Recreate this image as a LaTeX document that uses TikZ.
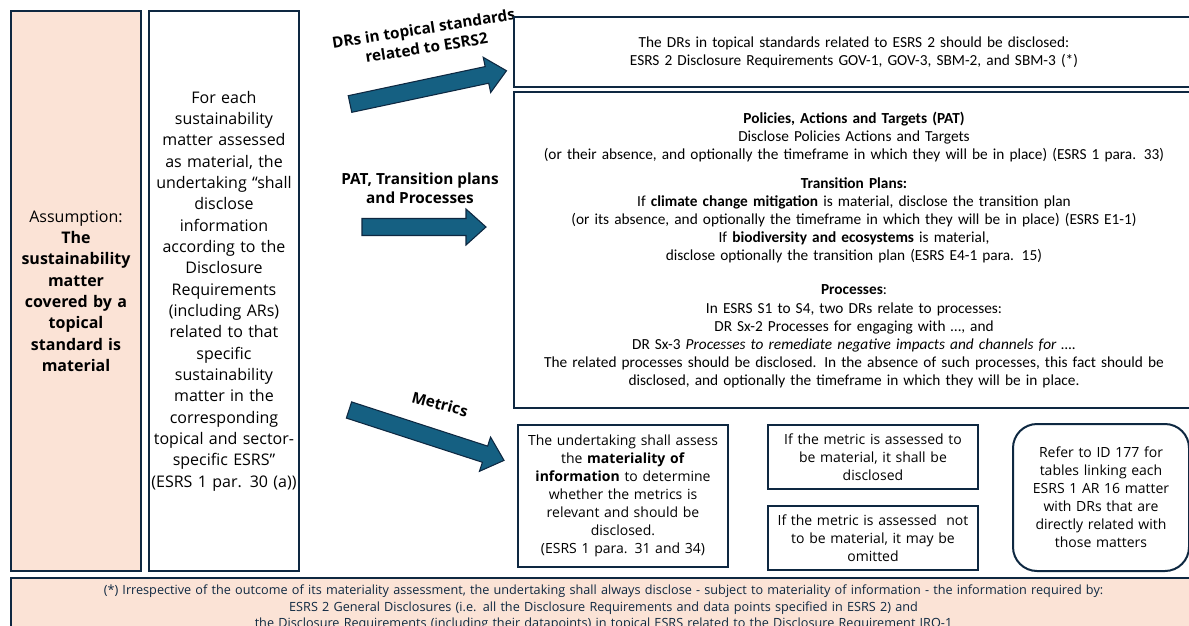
\documentclass[tikz,border=0pt]{standalone}
\usepackage{fontspec}
\setmainfont{Open Sans}
\newfontfamily\narrowfont{Carlito}

\definecolor{pinkfill}{HTML}{FBE3D6}
\definecolor{navy}{HTML}{0E2841}
\definecolor{arrowblue}{HTML}{156082}

\newcommand{\pxu}{0.75pt}

\tikzset{
  box/.style={draw=navy, line width=1.5pt, anchor=north west, align=center, inner sep=0pt, text=black},
  pinkbox/.style={box, fill=pinkfill},
  arrowlabel/.style={font=\bfseries\fontsize{11.5}{14.5}\selectfont, align=center},
  pics/blockarrow/.style={code={
    \filldraw[fill=arrowblue, draw=navy, line width=0.8pt]
      (0,-8.5) -- (#1-20,-8.5) -- (#1-20,-18) -- (#1,0) -- (#1-20,18) -- (#1-20,8.5) -- (0,8.5) -- cycle;
  }},
}

\begin{document}
\begin{tikzpicture}[x=\pxu, y=-\pxu]
    % Sfondo e dimensioni
    \fill[white] (0,0) rectangle (1189,625);
    \useasboundingbox (0,0) rectangle (1189,625);
    \clip (0,0) rectangle (1189,625);

    % Colonne di sinistra
    \node[pinkbox, minimum width=130*\pxu, minimum height=560*\pxu, text width=126*\pxu,
          font=\fontsize{12}{16}\selectfont] (assumption) at (10,10)
      {Assumption:\\ \textbf{The}\\ \textbf{sustainability}\\ \textbf{matter}\\ \textbf{covered by a}\\
       \textbf{topical}\\ \textbf{standard is}\\ \textbf{material}};
    \node[box, minimum width=150*\pxu, minimum height=560*\pxu, text width=148*\pxu,
          font=\fontsize{12}{16}\selectfont] (foreach) at (148,10)
      {For each\\ sustainability\\ matter assessed\\ as material, the\\ undertaking “shall\\ disclose\\
       information\\ according to the\\ Disclosure\\ Requirements\\ (including ARs)\\ related to that\\
       specific\\ sustainability\\ matter in the\\ corresponding\\ topical and sector-\\ specific ESRS”\\
       (ESRS 1 par. 30 (a))};

    % Frecce
    \pic (arrowdr) [rotate=12] at (350,104) {blockarrow=160};
    \pic (arrowpat) at (362,227) {blockarrow=124};
    \pic (arrowmet) [rotate=-18] at (349,410) {blockarrow=163};

    \node[arrowlabel, rotate=9] (drlabel) at (425,38) {DRs in topical standards\\related to ESRS2};
    \node[arrowlabel] (patlabel) at (420,188) {PAT, Transition plans\\and Processes};
    \node[arrowlabel, rotate=-15] (metlabel) at (440,404) {Metrics};

    % Riquadri di destra
    \node[box, minimum width=680*\pxu, minimum height=70*\pxu, text width=670*\pxu,
          font=\narrowfont\fontsize{11.5}{13.5}\selectfont] (esrstwo) at (513,16)
      {The DRs in topical standards related to ESRS 2 should be disclosed:\\
       ESRS 2 Disclosure Requirements GOV-1, GOV-3, SBM-2, and SBM-3 (*)};
    \node[box, minimum width=680*\pxu, minimum height=316*\pxu, text width=670*\pxu,
          font=\narrowfont\fontsize{11.5}{13.6}\selectfont] (pat) at (513,91)
      {\textbf{Policies, Actions and Targets (PAT)}\\
       Disclose Policies Actions and Targets\\
       (or their absence, and optionally the timeframe in which they will be in place) (ESRS 1 para. 33)\\[8pt]
       \textbf{Transition Plans:}\\
       If \textbf{climate change mitigation} is material, disclose the transition plan\\
       (or its absence, and optionally the timeframe in which they will be in place) (ESRS E1-1)\\
       If \textbf{biodiversity and ecosystems} is material,\\
       disclose optionally the transition plan (ESRS E4-1 para. 15)\\[12pt]
       \textbf{Processes}:\\
       In ESRS S1 to S4, two DRs relate to processes:\\
       DR Sx-2 Processes for engaging with …, and\\
       DR Sx-3 \textit{Processes to remediate negative impacts and channels for ….}\\
       The related processes should be disclosed. In the absence of such processes, this fact should be\\
       disclosed, and optionally the timeframe in which they will be in place.};

    % Metriche
    \node[box, minimum width=210*\pxu, minimum height=142*\pxu, text width=205*\pxu,
          font=\fontsize{10.5}{13.5}\selectfont] (materiality) at (517,424)
      {The undertaking shall assess\\ the \textbf{materiality of}\\ \textbf{information} to determine\\
       whether the metrics is\\ relevant and should be\\ disclosed.\\ (ESRS 1 para. 31 and 34)};
    \node[box, minimum width=210*\pxu, minimum height=64*\pxu, text width=205*\pxu,
          font=\fontsize{10.5}{13.5}\selectfont] (ismaterial) at (767,424)
      {If the metric is assessed to\\ be material, it shall be\\ disclosed};
    \node[box, minimum width=210*\pxu, minimum height=64*\pxu, text width=205*\pxu,
          font=\fontsize{10.5}{13.5}\selectfont] (notmaterial) at (767,505)
      {If the metric is assessed\ \ not\\ to be material, it may be\\ omitted};
    \node[box, rounded corners=18pt, minimum width=176*\pxu, minimum height=147*\pxu, text width=170*\pxu,
          font=\fontsize{10.5}{13.5}\selectfont] (referid) at (1012,423)
      {Refer to ID 177 for\\ tables linking each\\ ESRS 1 AR 16 matter\\ with DRs that are\\
       directly related with\\ those matters};

    % Nota in fondo
    \node[pinkbox, minimum width=1185*\pxu, minimum height=60*\pxu, text width=1170*\pxu,
          text=navy, font=\fontsize{9.5}{12.4}\selectfont] (footnote) at (10,577)
      {(*) Irrespective of the outcome of its materiality assessment, the undertaking shall always disclose - subject to materiality of information - the information required by:\\
       ESRS 2 General Disclosures (i.e. all the Disclosure Requirements and data points specified in ESRS 2) and\\
       the Disclosure Requirements  (including their datapoints) in topical ESRS related to the Disclosure Requirement IRO-1};

\end{tikzpicture}
\end{document}
